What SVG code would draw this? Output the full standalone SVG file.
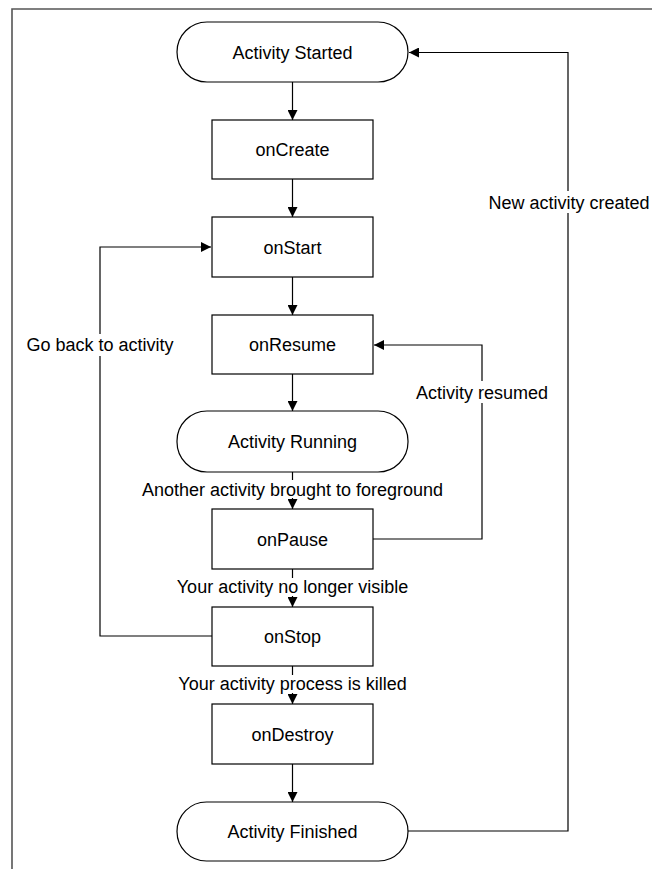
<svg xmlns="http://www.w3.org/2000/svg" width="652" height="869" viewBox="0 0 652 869">
<defs>
<marker id="ah" markerWidth="10" markerHeight="10" refX="10" refY="5" orient="auto" markerUnits="userSpaceOnUse">
<path d="M0,0 L10,5 L0,10 Z" fill="#000"/>
</marker>
<style>
.node{fill:#fff;stroke:#000;stroke-width:1.2}
.lbl{font-family:"Liberation Sans",Arial,sans-serif;font-size:18px;fill:#000;text-anchor:middle}
.conn{fill:none;stroke:#000;stroke-width:1.2}
.bg{fill:#fff}
</style>
</defs>
<rect x="0" y="0" width="652" height="869" fill="#fff"/>
<path d="M12,880 L12,9 L660,9" fill="none" stroke="#555" stroke-width="1.6"/>

<g id="connectors">
<path class="conn" d="M292.5,82 V120" marker-end="url(#ah)"/>
<path class="conn" d="M292.5,179 V217" marker-end="url(#ah)"/>
<path class="conn" d="M292.5,277 V315" marker-end="url(#ah)"/>
<path class="conn" d="M292.5,374 V411" marker-end="url(#ah)"/>
<path class="conn" d="M292.5,472 V509" marker-end="url(#ah)"/>
<path class="conn" d="M292.5,569 V607" marker-end="url(#ah)"/>
<path class="conn" d="M292.5,666 V704" marker-end="url(#ah)"/>
<path class="conn" d="M292.5,764 V802" marker-end="url(#ah)"/>
<path class="conn" d="M408,831 H568 V52.5 H409" marker-end="url(#ah)"/>
<path class="conn" d="M373,539 H482 V345 H374" marker-end="url(#ah)"/>
<path class="conn" d="M212,636 H100 V247 H211" marker-end="url(#ah)"/>

<g id="lbl-new">
<rect class="bg" x="486" y="191" width="166" height="22"/>
<text class="lbl" x="569" y="208.5">New activity created</text>
</g>
<g id="lbl-resumed">
<rect class="bg" x="415" y="381" width="135" height="22"/>
<text class="lbl" x="482" y="398.5">Activity resumed</text>
</g>
<g id="lbl-goback">
<rect class="bg" x="23" y="334" width="155" height="22"/>
<text class="lbl" x="100" y="351">Go back to activity</text>
</g>
<g id="lbl-another">
<rect class="bg" x="137" y="480" width="311" height="18"/>
<text class="lbl" x="292.5" y="495.5">Another activity brought to foreground</text>
</g>
<g id="lbl-novisible">
<rect class="bg" x="175" y="578" width="236" height="18"/>
<text class="lbl" x="292.5" y="593">Your activity no longer visible</text>
</g>
<g id="lbl-killed">
<rect class="bg" x="176" y="675" width="234" height="18"/>
<text class="lbl" x="292.5" y="690">Your activity process is killed</text>
</g>
</g>

<g id="activity-started">
<rect class="node" x="177" y="22" width="231" height="60" rx="30" ry="30"/>
<text class="lbl" x="292.5" y="58.5">Activity Started</text>
</g>
<g id="onCreate">
<rect class="node" x="212" y="120" width="161" height="59"/>
<text class="lbl" x="292.5" y="156">onCreate</text>
</g>
<g id="onStart">
<rect class="node" x="212" y="217" width="161" height="60"/>
<text class="lbl" x="292.5" y="253.5">onStart</text>
</g>
<g id="onResume">
<rect class="node" x="212" y="315" width="161" height="59"/>
<text class="lbl" x="292.5" y="351">onResume</text>
</g>
<g id="activity-running">
<rect class="node" x="177" y="411" width="231" height="61" rx="30" ry="30"/>
<text class="lbl" x="292.5" y="447.5">Activity Running</text>
</g>
<g id="onPause">
<rect class="node" x="212" y="509" width="161" height="60"/>
<text class="lbl" x="292.5" y="545.5">onPause</text>
</g>
<g id="onStop">
<rect class="node" x="212" y="607" width="161" height="59"/>
<text class="lbl" x="292.5" y="643">onStop</text>
</g>
<g id="onDestroy">
<rect class="node" x="212" y="704" width="161" height="60"/>
<text class="lbl" x="292.5" y="740.5">onDestroy</text>
</g>
<g id="activity-finished">
<rect class="node" x="177" y="802" width="231" height="59" rx="29.5" ry="29.5"/>
<text class="lbl" x="292.5" y="838">Activity Finished</text>
</g>
</svg>
